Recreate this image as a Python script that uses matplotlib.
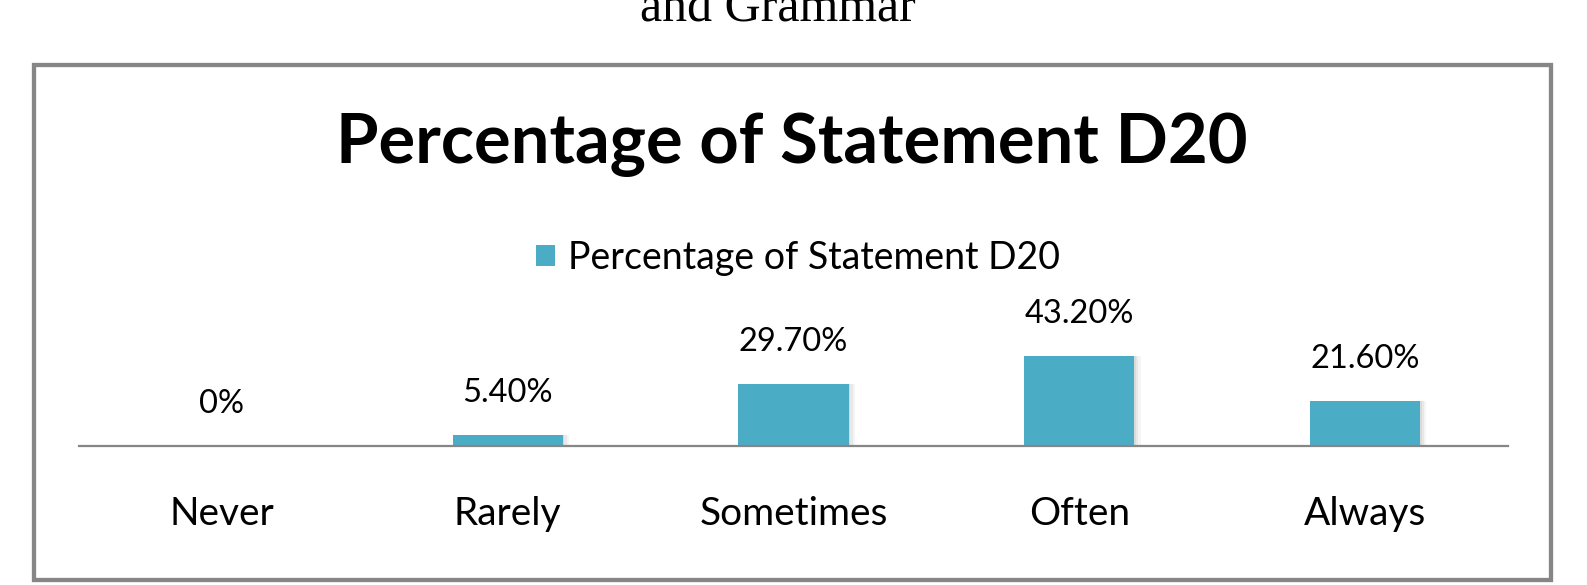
import matplotlib
matplotlib.use("Agg")
import matplotlib.pyplot as plt
from matplotlib.patches import Rectangle, Patch

categories = ["Never", "Rarely", "Sometimes", "Often", "Always"]
values = [0.0, 5.4, 29.7, 43.2, 21.6]
value_labels = ["0%", "5.40%", "29.70%", "43.20%", "21.60%"]
series_name = "Percentage of Statement D20"
title = "Percentage of Statement D20"
top_caption = "and Grammar"

W, H = 1587, 585
BAR = "#4BACC6"
GRAY = "#868686"

plt.rcParams['font.family'] = ['Lato', 'DejaVu Sans']

fig = plt.figure(figsize=(W / 100, H / 100), dpi=100)

def fx(x):
    return x / W

def fy(y):
    return 1 - y / H

# outer frame
fig.patches.append(Rectangle((fx(34), fy(580)), fx(1551) - fx(34), fy(65) - fy(580),
                             transform=fig.transFigure, fill=False,
                             edgecolor=GRAY, linewidth=3.1, zorder=0))

# cut-off caption at top
fig.text(fx(778), fy(21), top_caption, family=['Liberation Serif'], fontsize=36,
         ha='center', va='baseline', color='black')

# axes: axis line at y=446 px, 1% = 2.08 px
ax_left, ax_right, ax_bottom, ax_top = 79, 1508, 446, 300
ax = fig.add_axes([fx(ax_left), fy(ax_bottom), fx(ax_right) - fx(ax_left), fy(ax_top) - fy(ax_bottom)])
ax.set_xlim(-0.5, len(categories) - 0.5)
ax.set_ylim(0, (ax_bottom - ax_top) / 2.08)
ax.set_facecolor('none')

x = list(range(len(categories)))
# soft shadow
for k, a in enumerate([0.06, 0.05, 0.04]):
    off = 0.006 + 0.006 * k
    ax.bar([xi + off for xi in x], values, width=0.385 + 0.004 * k, color='black',
           alpha=a, zorder=1, linewidth=0)
bars = ax.bar(x, values, width=0.385, color=BAR, zorder=2, linewidth=0)

for xi, v, lab in zip(x, values, value_labels):
    ax.annotate(lab, (xi, v), xytext=(0, 42 * 0.72), textcoords='offset points',
                ha='center', va='center', fontsize=23.5, color='black')

for s in ['left', 'right', 'top']:
    ax.spines[s].set_visible(False)
ax.spines['bottom'].set_color(GRAY)
ax.spines['bottom'].set_linewidth(1.6)
ax.spines['bottom'].set_zorder(3)
ax.set_yticks([])
ax.set_xticks(x)
ax.set_xticklabels(categories, fontsize=28)
ax.tick_params(axis='x', length=0, pad=68 * 0.72)
for t in ax.get_xticklabels():
    t.set_va('center')

fig.text(fx(792), fy(145), title, fontsize=49.5, fontweight='bold', ha='center', va='center')

leg = fig.legend(handles=[Patch(facecolor=BAR, edgecolor='none', label=series_name)],
                 loc='center', bbox_to_anchor=(fx(798), fy(258)), frameon=False,
                 fontsize=27, handlelength=0.5, handleheight=0.5, handletextpad=0.35)

fig.savefig('out.png', dpi=100)
